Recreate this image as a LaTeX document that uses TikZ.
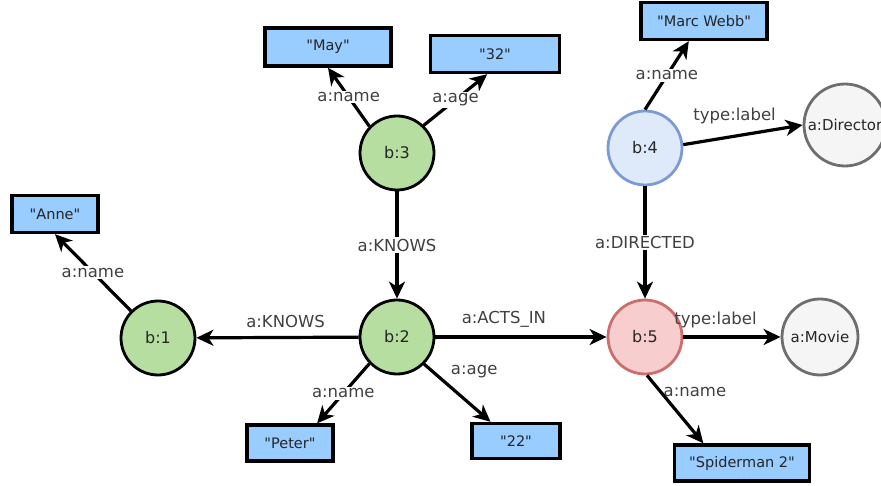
\documentclass[tikz,border=0pt]{standalone}
\usepackage{fontspec}
\setmainfont{DejaVu Sans}[Ligatures=TeXOff]
\usetikzlibrary{arrows.meta, positioning, calc}
\definecolor{entgreen}{RGB}{182,222,160}
\definecolor{litblue}{RGB}{153,204,255}
\definecolor{dirfill}{RGB}{222,233,250}
\definecolor{dirline}{RGB}{125,155,210}
\definecolor{moviefill}{RGB}{248,205,205}
\definecolor{movieline}{RGB}{205,110,110}
\definecolor{classfill}{RGB}{245,245,245}
\definecolor{classline}{RGB}{110,110,110}

\begin{document}
\begin{tikzpicture}[
  x=1pt, y=-1pt,
  every node/.style={font=\fontsize{16.5}{19}\selectfont, text=black!75},
  entity/.style={circle, draw, line width=2.8pt, minimum size=74pt, inner sep=0pt, font=\fontsize{16}{18}\selectfont, text=black!85},
  class/.style={circle, draw=classline, fill=classfill, line width=2.8pt, inner sep=0pt, font=\fontsize{15}{17}\selectfont, text=black!85},
  literal/.style={draw, line width=3.4pt, fill=litblue, inner sep=0pt, font=\fontsize{14.5}{17}\selectfont, text=black!85},
  rel/.style={-{Stealth[length=17pt,width=16pt,inset=5pt]}, line width=3.2pt},
  lbl/.style={fill=white, inner sep=1.5pt}
]
  \useasboundingbox (0,0) rectangle (881,486);

  \node[entity, fill=entgreen] (b1) at (158,338) {b:1};
  \node[entity, fill=entgreen] (b2) at (397,337) {b:2};
  \node[entity, fill=entgreen] (b3) at (397,153) {b:3};
  \node[entity, fill=dirfill, draw=dirline] (b4) at (645,148) {b:4};
  \node[entity, fill=moviefill, draw=movieline] (b5) at (645,337) {b:5};
  \node[class, minimum size=82pt] (dir) at (845,125) {a:Director};
  \node[class, minimum size=76pt] (movie) at (820,337) {a:Movie};

  \node[literal, minimum width=126pt, minimum height=38pt] (nMay) at (328,47) {"May"};
  \node[literal, minimum width=129pt, minimum height=37pt] (n32) at (495,54) {"32"};
  \node[literal, minimum width=126pt, minimum height=37pt] (nMarc) at (704,21) {"Marc Webb"};
  \node[literal, minimum width=86pt, minimum height=37pt] (nAnne) at (55,214) {"Anne"};
  \node[literal, minimum width=86pt, minimum height=36pt] (nPeter) at (290,443) {"Peter"};
  \node[literal, minimum width=88pt, minimum height=35pt] (n22) at (516,441) {"22"};
  \node[literal, minimum width=135pt, minimum height=36pt] (nSpider) at (742,463) {"Spiderman 2"};

  \draw[rel] (b3) -- node[lbl] {a:KNOWS} (b2);
  \draw[rel] (b2) -- node[above=5pt, pos=0.45] {a:KNOWS} (b1);
  \draw[rel] (b2) -- node[above=5pt, pos=0.4] {a:ACTS\_IN} (b5);
  \draw[rel] (b3.136) -- node[lbl] {a:name} (nMay.south);
  \draw[rel] (b3.46) -- node[lbl] {a:age} (n32.249);
  \draw[rel] (b1.135) -- node[lbl] {a:name} (nAnne.south);
  \draw[rel] (b2.224) -- node[lbl] {a:name} (nPeter.36);
  \draw[rel] (b2.315) -- node[pos=0.33, anchor=south west] {a:age} (n22.143);
  \draw[rel] (b4) -- node[lbl] {a:DIRECTED} (b5);
  \draw[rel] (b4.90) -- node[lbl] {a:name} (nMarc.233);
  \draw[rel] (b4.5) -- node[above=7pt, pos=0.43] {type:label} (dir.180);
  \draw[rel] (b5) -- node[above=4pt, pos=0.33] {type:label} (movie);
  \draw[rel] (b5.273) -- node[pos=0.25, anchor=west, inner sep=1pt] {a:name} (nSpider.153);
\end{tikzpicture}
\end{document}
